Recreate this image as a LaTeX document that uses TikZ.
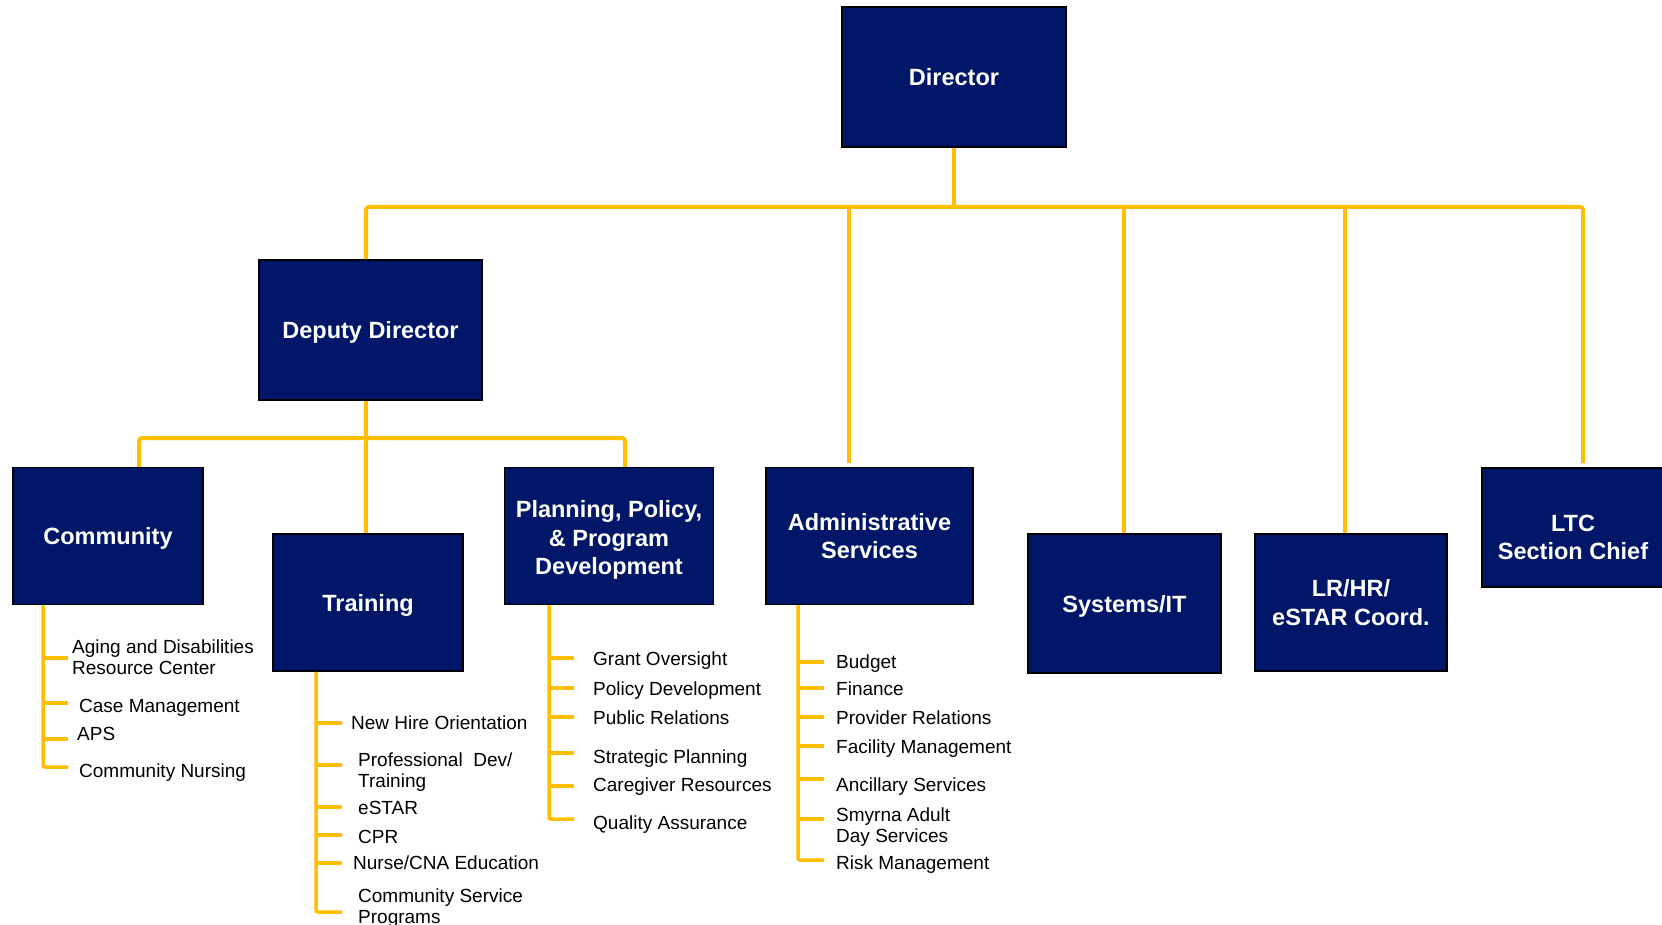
\documentclass[tikz,border=0pt]{standalone}
\usepackage{fontspec}
\setmainfont{Liberation Sans}
\definecolor{navy}{RGB}{0,22,104}
\definecolor{gold}{RGB}{255,190,0}
\newcommand\boxfont{\fontsize{23.5}{28.6}\selectfont\bfseries}
\newcommand\itemfont{\fontsize{19}{21}\selectfont}
\begin{document}
\begin{tikzpicture}[x=1pt,y=-1pt,
  box/.style={draw=black, line width=1.5pt, fill=navy, text=white, font=\boxfont, align=center, inner sep=0pt},
  oneline/.style={text height=17pt, text depth=0pt},
  boxtext/.style={text=white, font=\boxfont, align=center, inner sep=0pt},
  conn/.style={draw=gold, line width=4pt},
  tick/.style={draw=gold, line width=3.5pt},
  item/.style={anchor=west, inner sep=0pt, font=\itemfont, text height=13.6pt, text depth=0pt},
  itemtwo/.style={anchor=west, inner sep=0pt, font=\itemfont, align=left}]
\useasboundingbox (0,0) rectangle (1662,925);
\clip (0,0) rectangle (1662,925);

% boxes
\node[box, oneline, minimum width=224pt, minimum height=140pt] (dir) at (954,77) {Director};
\node[box, oneline, minimum width=223pt, minimum height=140pt] (dep) at (370.5,330) {Deputy Director};
\node[box, oneline, minimum width=190pt, minimum height=137pt] (com) at (108,536) {Community};
\node[box, oneline, minimum width=190pt, minimum height=137pt] (trn) at (368,602.5) {Training};
\node[box, minimum width=209pt, minimum height=137pt] (pln) at (609,536) {};
\node[boxtext] (plnt) at ([yshift=-4pt]pln.center) {Planning, Policy,\\\& Program\\Development};
\node[box, minimum width=207pt, minimum height=137pt] (adm) at (869.5,536) {Administrative\\Services};
\node[box, oneline, minimum width=193pt, minimum height=139pt] (sys) at (1124.5,603.5) {Systems/IT};
\node[box, minimum width=192pt, minimum height=137pt] (lrh) at (1351,602.5) {LR/HR/\\eSTAR Coord.};
\node[box, minimum width=182pt, minimum height=119pt] (ltc) at (1573,527.5) {};
\node[boxtext] (ltct) at ([yshift=-10pt]ltc.center) {LTC\\Section Chief};

% top level connectors
\coordinate (busL) at (366,207);
\coordinate (busR) at (1583,207);
\coordinate (dA) at (849,207);
\coordinate (dS) at (1124,207);
\coordinate (dL) at (1345,207);
\draw[conn] (dir.south) -- (dir.south |- busL);
\draw[conn, rounded corners=3pt, shorten >=4pt] (busL |- dep.north) -- (busL) -- (busR) -- (busR |- ltc.north);
\draw[conn, shorten >=4pt] (dA) -- (dA |- adm.north);
\draw[conn] (dS) -- (dS |- sys.north);
\draw[conn] (dL) -- (dL |- lrh.north);

% second level connectors
\coordinate (dstem) at (366,438);
\coordinate (sbL) at (139,438);
\coordinate (sbR) at (625,438);
\draw[conn] (dstem |- dep.south) -- (dstem);
\draw[conn, rounded corners=3pt] (sbL |- com.north) -- (sbL) -- (sbR) -- (sbR |- pln.north);
\draw[conn] (dstem) -- (dstem |- trn.north);

% Community list
\node[itemtwo] (c1) at (72,657.5) {Aging and Disabilities\\Resource Center};
\node[item] (c2) at (79,706) {Case Management};
\node[item] (c3) at (77,734) {APS};
\node[item] (c4) at (79,771) {Community Nursing};
\draw[tick, rounded corners=2pt] (43,0 |- com.south) -- (43,767) -- (68,767);
\foreach \y in {658,703,739} \draw[tick] (43,\y) -- (68,\y);

% Training list
\node[item] (t1) at (351,723) {New Hire Orientation};
\node[itemtwo] (t2) at (358,772.5) {Professional\ \ Dev/\\Training};
\node[item] (t3) at (358,808) {eSTAR};
\node[item] (t4) at (358,837) {CPR};
\node[item] (t5) at (353,863) {Nurse/CNA Education};
\node[itemtwo] (t6) at (358,908) {Community Service\\Programs};
\draw[tick, rounded corners=2pt] (316,0 |- trn.south) -- (316,912) -- (342,912);
\foreach \y in {723,765,807,835,863} \draw[tick] (316,\y) -- (342,\y);

% Planning list
\node[item] (p1) at (593,659) {Grant Oversight};
\node[item] (p2) at (593,689) {Policy Development};
\node[item] (p3) at (593,718) {Public Relations};
\node[item] (p4) at (593,757) {Strategic Planning};
\node[item] (p5) at (593,785) {Caregiver Resources};
\node[item] (p6) at (593,823) {Quality Assurance};
\draw[tick, rounded corners=2pt] (549,0 |- pln.south) -- (549,819) -- (574,819);
\foreach \y in {658,688,717,753,786} \draw[tick] (549,\y) -- (574,\y);

% Administrative list
\node[item] (a1) at (836,662) {Budget};
\node[item] (a2) at (836,689) {Finance};
\node[item] (a3) at (836,718) {Provider Relations};
\node[item] (a4) at (836,747) {Facility Management};
\node[item] (a5) at (836,785) {Ancillary Services};
\node[itemtwo] (a6) at (836,827) {Smyrna Adult\\Day Services};
\node[item] (a7) at (836,863) {Risk Management};
\draw[tick, rounded corners=2pt] (798,0 |- adm.south) -- (798,860) -- (824,860);
\foreach \y in {662,688,717,746,779,819} \draw[tick] (798,\y) -- (824,\y);
\end{tikzpicture}
\end{document}
